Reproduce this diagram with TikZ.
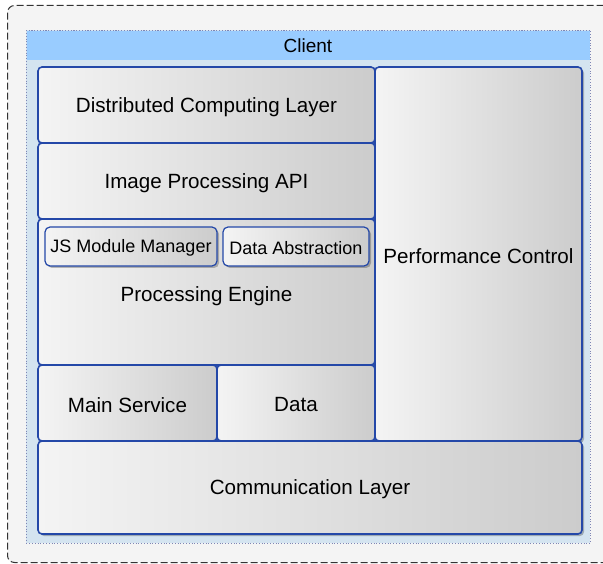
\documentclass[tikz,border=0pt]{standalone}
\usepackage{fontspec}
\setmainfont{Liberation Sans}
\usetikzlibrary{shadows}
\definecolor{bordblue}{HTML}{2448A8}
\definecolor{outerfill}{HTML}{F4F4F4}
\definecolor{hdrblue}{HTML}{99CCFF}
\definecolor{bodyblue}{HTML}{D4E4F0}
\definecolor{dotcol}{HTML}{7F86B5}
\definecolor{gradlight}{HTML}{F4F4F4}
\definecolor{graddark}{HTML}{CCCCCC}
\begin{document}
\begin{tikzpicture}[x=1pt,y=-1pt,
  box/.style={draw=bordblue, line width=1.6pt, rounded corners=4pt,
    left color=gradlight, right color=graddark,
    drop shadow={shadow xshift=2pt, shadow yshift=-2pt, opacity=0.25, fill=black},
    inner sep=0pt, outer sep=0pt, anchor=north west},
  subbox/.style={box, rounded corners=5pt, line width=1.2pt},
  lbl/.style={font=\fontsize{20.6}{24}\selectfont, text=black, yshift=-2pt},
  sublbl/.style={font=\fontsize{18}{22}\selectfont, text=black, yshift=-1.5pt},
  bw/.style 2 args={minimum width=#1pt, minimum height=#2pt}]
\useasboundingbox (0,0) rectangle (603,564);
% outer dashed frame
\node[draw=black!80, line width=1pt, dash pattern=on 7pt off 3pt, fill=outerfill,
  rounded corners=7pt, anchor=north west, inner sep=0pt, bw={603}{557}] (frame) at (7,5) {};
% client container
\node[fill=bodyblue, draw=dotcol, dotted, line width=0.8pt, anchor=north west, inner sep=0pt,
  bw={564}{513}] (client) at (26,30) {};
\node[fill=hdrblue, anchor=north west, inner sep=0pt, bw={563}{29.5}] (clienthdr) at (26.4,30.4) {};
\node[font=\fontsize{19}{22}\selectfont] (clientlbl) at (308,45.5) {Client};
\draw[dotcol, dotted, line width=0.8pt] (client.north west) -- (client.north east);
% boxes
\node[box, bw={337}{76}] (dcl) at (38,67) {};
\node[lbl] at (dcl.center) {Distributed Computing Layer};
\node[box, bw={337}{76}] (ipa) at (38,143) {};
\node[lbl] at (ipa.center) {Image Processing API};
\node[box, bw={337}{146}] (pe) at (38,219) {};
\node[lbl] (pelbl) at (206.5,294) {Processing Engine};
\node[subbox, bw={172}{39}] (jsm) at (45,227) {};
\node[sublbl] at (jsm.center) {JS Module Manager};
\node[subbox, bw={146}{39}] (da) at (223,227) {};
\node[sublbl] at (da.center) {Data Abstraction};
\node[box, bw={179}{76}] (ms) at (38,365) {};
\node[lbl] at (ms.center) {Main Service};
\node[box, bw={158}{76}] (data) at (217,365) {};
\node[lbl] at (data.center) {Data};
\node[box, bw={207}{374}] (pc) at (375,67) {};
\node[lbl] at (pc.center) {Performance Control};
\node[box, bw={544}{93}] (cl) at (38,441) {};
\node[lbl] at (cl.center) {Communication Layer};
\end{tikzpicture}
\end{document}
